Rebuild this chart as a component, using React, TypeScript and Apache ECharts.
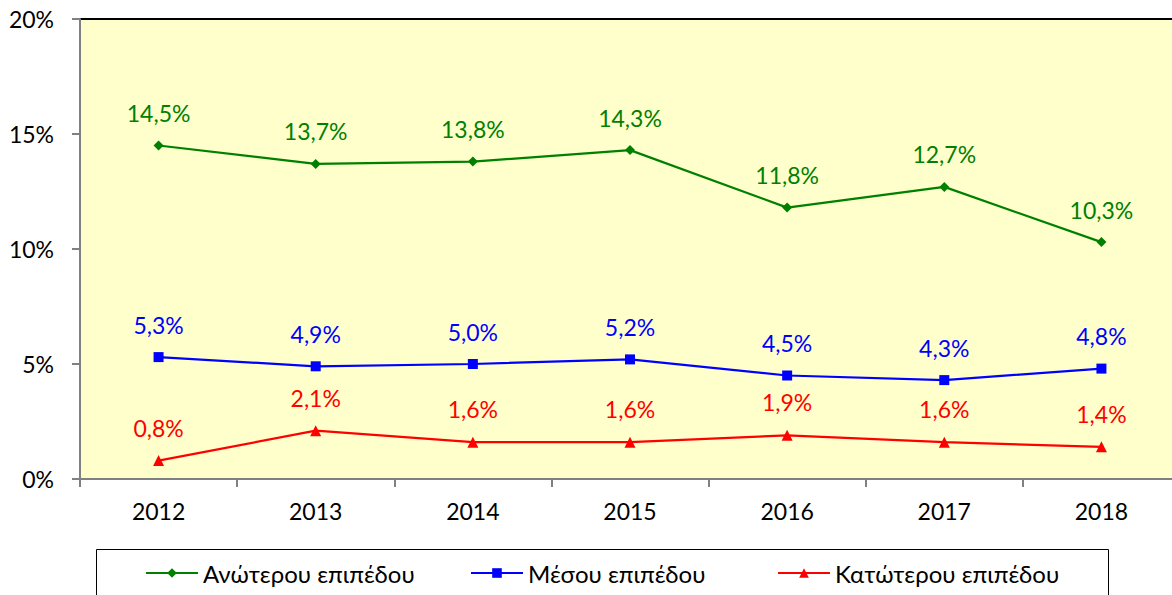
import React, { useEffect, useRef } from "react";
import * as echarts from "echarts";

const categories = ["2012", "2013", "2014", "2015", "2016", "2017", "2018"];
const upper = [14.5, 13.7, 13.8, 14.3, 11.8, 12.7, 10.3];
const middle = [5.3, 4.9, 5.0, 5.2, 4.5, 4.3, 4.8];
const lower = [0.8, 2.1, 1.6, 1.6, 1.9, 1.6, 1.4];
const seriesNames = ["Ανώτερου επιπέδου", "Μέσου επιπέδου", "Κατώτερου επιπέδου"];

const FONT = "Lato, 'Noto Sans', 'Open Sans', sans-serif";

const fmt = (v: number) => v.toFixed(1).replace(".", ",") + "%";

export default function App() {
  const ref = useRef<HTMLDivElement>(null);
  useEffect(() => {
    if (!ref.current) return;
    const chart = echarts.init(ref.current, undefined, { renderer: "svg" });
    const mk = (name: string, data: number[], color: string, symbol: string, size: number) => ({
      name,
      type: "line",
      data,
      symbol,
      symbolSize: size,
      showAllSymbol: true,
      lineStyle: { color, width: 2.2 },
      itemStyle: { color },
      label: {
        show: true,
        position: "top",
        distance: 16,
        color,
        fontFamily: FONT,
        fontSize: 23,
        formatter: (p: any) => fmt(p.value),
      },
    });
    const legendLefts = [145, 470, 777];
    chart.setOption({
      animation: false,
      grid: {
        left: 80,
        top: 19,
        right: 0,
        height: 460,
        show: true,
        backgroundColor: "#FFFFCC",
        borderColor: "#000",
        borderWidth: 2,
      },
      xAxis: {
        type: "category",
        data: categories,
        boundaryGap: true,
        axisLine: { show: true, lineStyle: { color: "#808080", width: 2 } },
        axisTick: { show: true, length: 8, lineStyle: { color: "#808080", width: 2 } },
        axisLabel: { color: "#000", fontFamily: FONT, fontSize: 23, margin: 20 },
        splitLine: { show: false },
      },
      yAxis: {
        type: "value",
        min: 0,
        max: 20,
        interval: 5,
        axisLine: { show: true, lineStyle: { color: "#808080", width: 2 } },
        axisTick: { show: true, length: 8, lineStyle: { color: "#808080", width: 2 } },
        axisLabel: {
          color: "#000",
          fontFamily: FONT,
          fontSize: 23,
          margin: 26,
          formatter: (v: number) => v + "%",
        },
        splitLine: { show: false },
      },
      legend: seriesNames.map((n, i) => ({
        left: legendLefts[i],
        top: 561,
        padding: 0,
        itemWidth: 52,
        itemHeight: 12,
        textStyle: { color: "#000", fontFamily: FONT, fontSize: 24 },
        data: [n],
      })),
      graphic: [
        {
          type: "rect",
          shape: { x: 96.5, y: 549.5, width: 1012, height: 60 },
          style: { fill: "none", stroke: "#000", lineWidth: 1 },
          silent: true,
        },
      ],
      series: [
        mk(seriesNames[0], upper, "#008000", "diamond", 10),
        mk(seriesNames[1], middle, "#0000FF", "rect", 10),
        mk(seriesNames[2], lower, "#FF0000", "triangle", 11),
      ],
    });
    return () => chart.dispose();
  }, []);
  return (
    <div style={{ position: "absolute", left: 0, top: 0, width: 1172, height: 595, overflow: "hidden" }}>
      <div ref={ref} style={{ width: 1180, height: 595 }} />
    </div>
  );
}
